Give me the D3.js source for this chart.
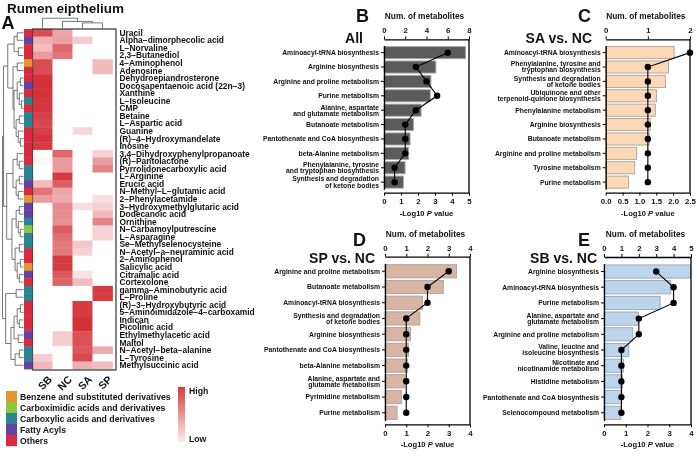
<!DOCTYPE html>
<html><head><meta charset="utf-8">
<script src="https://cdn.jsdelivr.net/npm/d3@7"></script>
<style>
body{margin:0;background:#fff}
svg{display:block;will-change:transform}
text{font-family:"Liberation Sans",Arial,sans-serif;font-weight:bold;fill:#111}
</style>
</head><body><svg id="c" width="696" height="456"></svg>
<script>
// ---------- Panel A data ----------
const metabolites = ["Uracil","Alpha\u2212dimorphecolic acid","L\u2212Norvaline","2,3\u2212Butanediol","4\u2212Aminophenol","Adenosine","Dehydroepiandrosterone","Docosapentaenoic acid (22n\u22123)","Xanthine","L\u2212Isoleucine","CMP","Betaine","L\u2212Aspartic acid","Guanine","(R)\u22124\u2212Hydroxymandelate","Inosine","3,4\u2212Dihydroxyphenylpropanoate","(R)\u2212Pantolactone","Pyrrolidonecarboxylic acid","L\u2212Arginine","Erucic acid","N\u2212Methyl\u2212L\u2212glutamic acid","2\u2212Phenylacetamide","3\u2212Hydroxymethylglutaric acid","Dodecanoic acid","Ornithine","N\u2212Carbamoylputrescine","L\u2212Asparagine","Se\u2212Methylselenocysteine","N\u2212Acetyl\u2212a\u2212neuraminic acid","2\u2212Aminophenol","Salicylic acid","Citramalic acid","Cortexolone","gamma\u2212Aminobutyric acid","L\u2212Proline","(R)\u22123\u2212Hydroxybutyric acid","5\u2212Aminoimidazole\u22124\u2212carboxamid","Indican","Picolinic acid","Ethylmethylacetic acid","Maltol","N\u2212Acetyl\u2212beta\u2212alanine","L\u2212Tyrosine","Methylsuccinic acid"];
const groups = ["SB","NC","SA","SP"];
// scaled abundance (0 = white, 1 = high), columns SB, NC, SA, SP
const heatValues = [
[0.8,0.4,0,0],[0.35,0.42,0.22,0],[0.3,0.68,0,0],[0.45,0.62,0,0],[0.8,0,0,0.3],
[0.8,0,0,0.3],[0.92,0,0,0],[0.92,0,0,0],[0.92,0,0,0],[0.9,0,0,0],
[0.9,0,0,0],[0.85,0,0,0],[0.82,0,0,0],[0.85,0,0.18,0],[0.9,0,0,0],
[0.88,0,0,0],[0,0.68,0,0.2],[0.04,0.45,0,0.45],[0,0.45,0,0.55],[0,0.88,0,0],
[0.3,0.72,0,0],[0.62,0.4,0,0],[0.45,0.38,0,0.15],[0,0.52,0.15,0.2],[0,0.52,0,0.32],
[0,0.5,0,0.55],[0,0.72,0,0.2],[0,0.65,0,0.2],[0,0.6,0.25,0],[0,0.6,0.2,0],
[0,0.88,0,0],[0,0.88,0,0],[0,0.75,0.12,0],[0,0.7,0.3,0],[0,0,0,0.88],
[0,0,0,0.88],[0,0,0.88,0],[0,0,0.88,0],[0,0,0.92,0],[0,0,0.92,0],
[0,0.22,0.78,0],[0,0.22,0.78,0],[0,0,0.75,0.38],[0.22,0,0.82,0],[0.32,0,0.35,0.3]];
const classNames = ["Benzene and substituted derivatives","Carboximidic acids and derivatives","Carboxylic acids and derivatives","Fatty Acyls","Others"];
const classColors = ["#e3972f","#8dc641","#2a8591","#6441a5","#d92b3f"];
const rowClass = [4,3,4,4,0,4,4,3,4,2, 4,2,2,4,4,4,4,4,2,2, 3,4,0,3,3,2,1,2,2,4, 4,0,3,4,2,2,4,4,4,4, 3,4,2,2,3];
// dendrograms: [height, left, right], leaves are indices
const rowTree = [1.0,
  [0.95,
    [0.75, [0.45,[0.3,0,1],[0.25,2,3]],
           [0.5,[0.3,4,5],[0.45,[0.3,[0.15,6,7],[0.2,8,[0.1,9,10]]],[0.35,[0.2,11,12],[0.25,13,[0.15,14,15]]]]]],
    [0.8, [0.5,[0.3,16,[0.2,17,18]],[0.35,[0.2,19,20],[0.25,21,22]]],
          [0.55,[0.35,[0.2,23,24],[0.25,25,[0.15,26,27]]],[0.4,[0.2,28,29],[0.3,[0.15,30,31],[0.2,32,33]]]]]],
  [0.85, [0.35,34,35],
         [0.6,[0.45,[0.3,[0.15,36,37],[0.2,38,39]],[0.25,40,41]],[0.4,[0.2,42,43],44]]]];
const colTree = [0.82, 0, [0.57, 1, [0.45, 2, 3]]];

// ---------- Panels B-E data ----------
const pathsB = ["Aminoacyl-tRNA biosynthesis","Arginine biosynthesis","Arginine and proline metabolism","Purine metabolism","Alanine, aspartate\nand glutamate metabolism","Butanoate metabolism","Pantothenate and CoA biosynthesis","beta-Alanine metabolism","Phenylalanine, tyrosine\nand tryptophan biosynthesis","Synthesis and degradation\nof ketone bodies"];
const pvalB = [4.8,3.05,2.76,2.72,2.18,1.73,1.53,1.45,1.24,1.14];
const numB = [6,3,4,5,3,2,2,2,1,1];
const pathsC = ["Aminoacyl-tRNA biosynthesis","Phenylalanine, tyrosine and\ntryptophan biosynthesis","Synthesis and degradation\nof ketone bodies","Ubiquinone and other\nterpenoid-quinone biosynthesis","Phenylalanine metabolism","Arginine biosynthesis","Butanoate metabolism","Arginine and proline metabolism","Tyrosine metabolism","Purine metabolism"];
const pvalC = [2.03,1.86,1.77,1.51,1.47,1.32,1.29,0.92,0.86,0.68];
const numC = [2,1,1,1,1,1,1,1,1,1];
const pathsD = ["Arginine and proline metabolism","Butanoate metabolism","Aminoacyl-tRNA biosynthesis","Synthesis and degradation\nof ketone bodies","Arginine biosynthesis","Pantothenate and CoA biosynthesis","beta-Alanine metabolism","Alanine, aspartate and\nglutamate metabolism","Pyrimidine metabolism","Purine metabolism"];
const pvalD = [3.37,2.74,1.76,1.64,1.2,1.1,1.05,0.93,0.78,0.57];
const numD = [3,2,2,1,1,1,1,1,1,1];
const pathsE = ["Arginine biosynthesis","Aminoacyl-tRNA biosynthesis","Purine metabolism","Alanine, aspartate and\nglutamate metabolism","Arginine and proline metabolism","Valine, leucine and\nisoleucine biosynthesis","Nicotinate and\nnicotinamide metabolism","Histidine metabolism","Pantothenate and CoA biosynthesis","Selenocompound metabolism"];
const pvalE = [3.98,3.07,2.58,1.58,1.32,1.14,0.89,0.85,0.82,0.77];
const numE = [3,4,4,2,2,1,1,1,1,1];
const pTicksB = [0,1,2,3,4,5], nTicksB = [0,2,4,6,8];
const pTicksC = [0,0.5,1,1.5,2,2.5], nTicksC = [0,1,2];
const pTicksD = [0,1,2,3,4], nTicksD = [0,1,2,3,4];
const pTicksE = [0,1,2,3,4], nTicksE = [0,1,2,3,4,5];

const svg = d3.select("#c");
svg.append("rect").attr("width",696).attr("height",456).attr("fill","#fff");

// ================= Panel A =================
const hx = d3.scaleBand().domain(groups).range([32.5,112.5]);
const hy = d3.scaleBand().domain(d3.range(metabolites.length)).range([29,369]);
const heatColor = d3.scaleLinear().domain([0,1]).range(["#ffffff","#cf2027"]).interpolate(d3.interpolateRgb);
const gA = svg.append("g");

const cells = [];
heatValues.forEach((row,i)=>row.forEach((v,j)=>cells.push({i,g:groups[j],v})));
gA.selectAll("rect.cell").data(cells).join("rect")
  .attr("x",d=>hx(d.g)).attr("y",d=>hy(d.i))
  .attr("width",hx.bandwidth()+0.4).attr("height",hy.bandwidth()+0.4)
  .attr("fill",d=>heatColor(d.v));
gA.append("rect").attr("x",32.5).attr("y",29).attr("width",83.5).attr("height",341)
  .attr("fill","none").attr("stroke","#333").attr("stroke-width",1.2);

// class bar
gA.selectAll("rect.cls").data(rowClass).join("rect")
  .attr("x",24).attr("width",8.5).attr("y",(d,i)=>hy(i)).attr("height",hy.bandwidth()+0.4)
  .attr("fill",d=>classColors[d]);

// row labels
gA.selectAll("text.rl").data(metabolites).join("text")
  .attr("x",119.5).attr("y",(d,i)=>hy(i)+hy.bandwidth()/2).attr("dy","0.36em")
  .attr("font-size",8.4).text(d=>d);

// row dendrogram
const dx = d3.scaleLinear().domain([0,1]).range([23.5,2.5]);
const dline = [];
function walkRow(node){
  if(typeof node==="number") return {y:hy(node)+hy.bandwidth()/2,h:0};
  const a=walkRow(node[1]), b=walkRow(node[2]), h=node[0];
  dline.push([[dx(a.h),a.y],[dx(h),a.y]],[[dx(b.h),b.y],[dx(h),b.y]],[[dx(h),a.y],[dx(h),b.y]]);
  return {y:(a.y+b.y)/2,h};
}
walkRow(rowTree);
const dy = d3.scaleLinear().domain([0,1]).range([28.5,16]);
function walkCol(node){
  if(typeof node==="number") return {x:hx(groups[node])+hx.bandwidth()/2,h:0};
  const a=walkCol(node[1]), b=walkCol(node[2]), h=node[0];
  dline.push([[a.x,dy(a.h)],[a.x,dy(h)]],[[b.x,dy(b.h)],[b.x,dy(h)]],[[a.x,dy(h)],[b.x,dy(h)]]);
  return {x:(a.x+b.x)/2,h};
}
walkCol(colTree);
gA.selectAll("path.dl").data(dline).join("path")
  .attr("d",d=>d3.line()(d)).attr("stroke","#555").attr("stroke-width",0.8).attr("fill","none");

// column labels
gA.selectAll("text.cl").data(groups).join("text")
  .attr("transform",d=>`translate(${hx(d)+hx.bandwidth()/2+5},375) rotate(-45)`)
  .attr("text-anchor","end").attr("dy","0.7em").attr("font-size",10.5).text(d=>d);

// title + letter
svg.append("text").attr("x",7).attr("y",12.5).attr("font-size",13.5).text("Rumen eipthelium");
svg.append("text").attr("x",1.5).attr("y",29).attr("font-size",18).text("A");

// legend
const lg = svg.append("g");
lg.selectAll("rect").data(classNames).join("rect")
  .attr("x",6).attr("width",11).attr("y",(d,i)=>391+i*11).attr("height",11.2)
  .attr("fill",(d,i)=>classColors[i]);
lg.selectAll("text").data(classNames).join("text")
  .attr("x",20).attr("y",(d,i)=>391+i*11+5.5).attr("dy","0.36em").attr("font-size",8.7).text(d=>d);
const defs = svg.append("defs");
const grad = defs.append("linearGradient").attr("id","hl").attr("x1",0).attr("y1",0).attr("x2",0).attr("y2",1);
grad.append("stop").attr("offset","0%").attr("stop-color","#d63a3f");
grad.append("stop").attr("offset","100%").attr("stop-color","#fbecec");
svg.append("rect").attr("x",178).attr("y",387).attr("width",7).attr("height",55).attr("fill","url(#hl)");
svg.append("text").attr("x",189).attr("y",391).attr("dy","0.36em").attr("font-size",8.7).text("High");
svg.append("text").attr("x",189).attr("y",439).attr("dy","0.36em").attr("font-size",8.7).text("Low");

// ================= Panels B-E =================
const panels = [
 {letter:"B",title:"All",paths:pathsB,pval:pvalB,num:numB,pT:pTicksB,nT:nTicksB,fill:"#5b5b5b",stroke:"#a8a8a8",
  x0:384,x1:469,y0:39.3,y1:192.7,pMax:5,nMax:8,lx:356,ly:22,tx:363,ty:43,fmt:d3.format("d")},
 {letter:"C",title:"SA vs. NC",paths:pathsC,pval:pvalC,num:numC,pT:pTicksC,nT:nTicksC,fill:"#fdd8b6",stroke:"#a9a29a",
  x0:605.7,x1:690,y0:39.3,y1:192.7,pMax:2.5,nMax:2,lx:578,ly:22,tx:592,ty:43,fmt:d3.format(".1f")},
 {letter:"D",title:"SP vs. NC",paths:pathsD,pval:pvalD,num:numD,pT:pTicksD,nT:nTicksD,fill:"#d8b4a3",stroke:"#a9a29e",
  x0:385,x1:470,y0:256.7,y1:424.3,pMax:4,nMax:4,lx:353,ly:246,tx:375,ty:263,fmt:d3.format("d")},
 {letter:"E",title:"SB vs. NC",paths:pathsE,pval:pvalE,num:numE,pT:pTicksE,nT:nTicksE,fill:"#bcd5ed",stroke:"#9ea4aa",
  x0:604,x1:691,y0:257,y1:424.3,pMax:4,nMax:5,lx:578,ly:246,tx:597,ty:263,fmt:d3.format("d")}
];

panels.forEach(p=>{
  const g = svg.append("g");
  const h = p.y1-p.y0;
  const xb = d3.scaleLinear().domain([0,p.pMax]).range([p.x0,p.x1]);
  const xt = d3.scaleLinear().domain([0,p.nMax]).range([p.x0,p.x1]);
  const yb = d3.scaleBand().domain(p.paths).range([p.y0+0.04*h,p.y1-0.022*h]).paddingInner(0.16).paddingOuter(0.08);
  // bars
  g.selectAll("rect").data(p.paths).join("rect")
    .attr("x",p.x0).attr("y",d=>yb(d)).attr("height",yb.bandwidth())
    .attr("width",(d,i)=>xb(p.pval[i])-p.x0)
    .attr("fill",p.fill).attr("stroke",p.stroke).attr("stroke-width",0.9);
  // axes
  const axB = g.append("g").attr("transform",`translate(0,${p.y1})`)
    .call(d3.axisBottom(xb).tickValues(p.pT).tickFormat(p.fmt).tickSize(3).tickSizeOuter(0));
  const axT = g.append("g").attr("transform",`translate(0,${p.y0})`)
    .call(d3.axisTop(xt).tickValues(p.nT).tickFormat(d3.format("d")).tickSize(3).tickSizeOuter(0));
  const axL = g.append("g").attr("transform",`translate(${p.x0},0)`)
    .call(d3.axisLeft(yb).tickSize(3).tickSizeOuter(0).tickFormat(""));
  g.append("line").attr("x1",p.x1).attr("x2",p.x1).attr("y1",p.y0).attr("y2",p.y1)
    .attr("stroke","#000").attr("stroke-width",1.3);
  [axB,axT,axL].forEach(a=>{
    a.select(".domain").attr("stroke","#000").attr("stroke-width",1.3);
    a.selectAll(".tick line").attr("stroke","#000").attr("stroke-width",1);
    a.selectAll(".tick text").attr("font-size",7.8).attr("font-family",null).attr("fill","#111").style("font-weight","bold");
  });
  // category labels
  g.selectAll("text.cat").data(p.paths).join("text")
    .attr("text-anchor","end").attr("font-size",6.8)
    .attr("x",p.x0-5).attr("y",d=>yb(d)+yb.bandwidth()/2)
    .each(function(d){
      const lines=d.split("\n"); const t=d3.select(this);
      lines.forEach((s,k)=>t.append("tspan").attr("x",p.x0-5)
        .attr("dy",k===0?(lines.length>1?"-0.1em":"0.36em"):"0.9em").text(s));
    });
  // line + points
  const pts = p.paths.map((d,i)=>[xt(p.num[i]),yb(d)+yb.bandwidth()/2]);
  g.append("path").attr("d",d3.line()(pts)).attr("fill","none").attr("stroke","#000").attr("stroke-width",1.1);
  g.selectAll("circle").data(pts).join("circle").attr("cx",d=>d[0]).attr("cy",d=>d[1]).attr("r",3.2).attr("fill","#000");
  // titles
  const mid=(p.x0+p.x1)/2;
  g.append("text").attr("x",mid-2).attr("y",p.y0-20).attr("text-anchor","middle").attr("font-size",8.3).text("Num. of metabolites");
  const xl = g.append("text").attr("x",mid).attr("y",p.y1+23).attr("text-anchor","middle").attr("font-size",7.6);
  xl.append("tspan").text("-Log10 ");
  xl.append("tspan").attr("font-style","italic").text("P");
  xl.append("tspan").text(" value");
  g.append("text").attr("x",p.lx).attr("y",p.ly).attr("font-size",18).text(p.letter);
  g.append("text").attr("x",p.tx).attr("y",p.ty).attr("text-anchor","end").attr("font-size",14).text(p.title);
});
</script>
</body></html>
